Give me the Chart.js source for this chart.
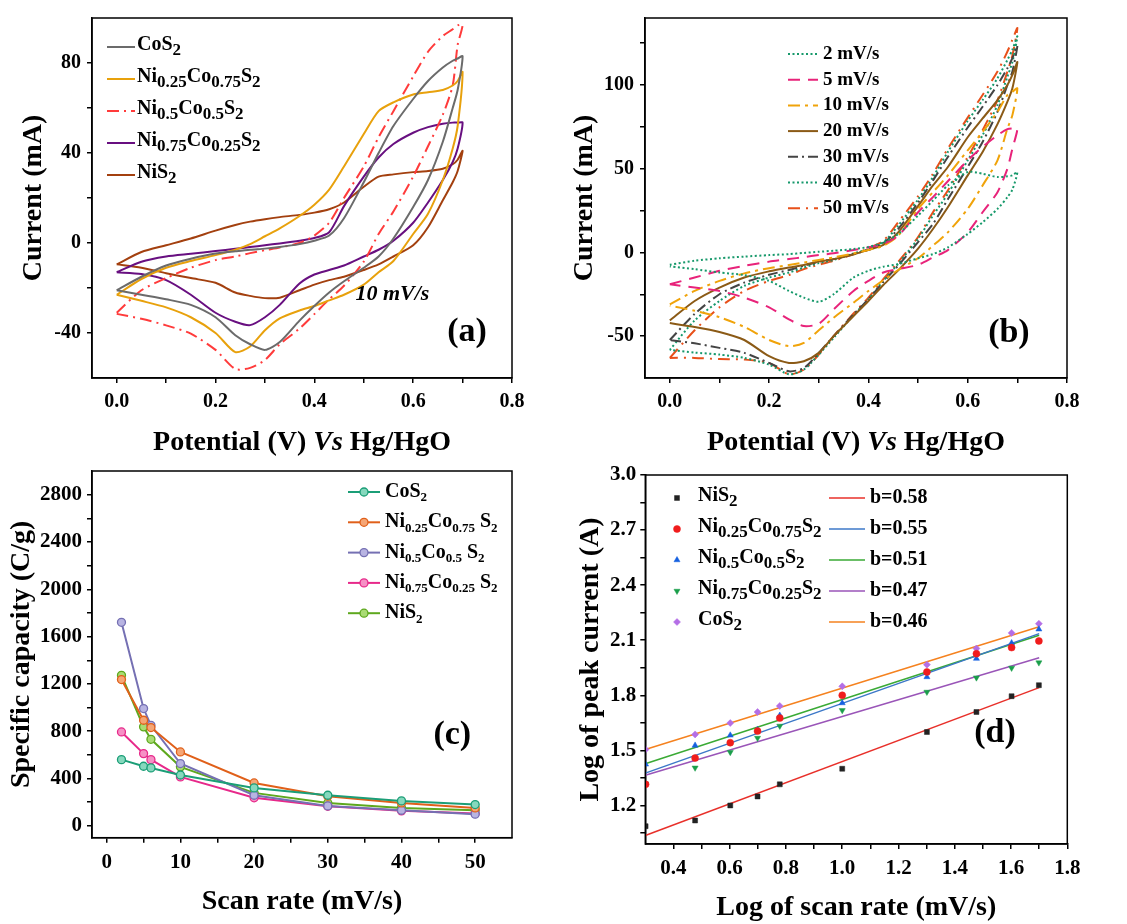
<!DOCTYPE html>
<html>
<head>
<meta charset="utf-8">
<script src="https://cdn.jsdelivr.net/npm/chart.js@4.4.1/dist/chart.umd.min.js"></script>
<style>
  body { margin: 0; background: #fff; }
  #wrap { position: relative; width: 1127px; height: 924px; overflow: hidden; }
  canvas { position: absolute; }
</style>
</head>
<body>
<div id="wrap">
  <canvas id="ca" width="563" height="462" style="left:0;top:0"></canvas>
  <canvas id="cb" width="564" height="462" style="left:563px;top:0"></canvas>
  <canvas id="cc" width="563" height="484" style="left:0;top:440px"></canvas>
  <canvas id="cd" width="564" height="484" style="left:563px;top:440px"></canvas>
</div>
<script>
// ---- (a) CV of the five samples at 10 mV/s, potential grid shared by all loops
const potential = [0, 0.05, 0.1, 0.15, 0.2, 0.24, 0.27, 0.3, 0.33, 0.37, 0.4, 0.43, 0.46, 0.5, 0.53, 0.56, 0.6, 0.63, 0.66, 0.68, 0.69, 0.7];

const cos2Fwd = [-21, -15, -10, -7, -4.7, -3.7, -3, -2.5, -1.8, -0.5, 1, 3.3, 11, 27, 40, 52, 64, 72, 78, 81, 82, 83];
const cos2Rev = [-21, -23, -25, -27.5, -33, -41, -45, -47.5, -44, -34.5, -28, -22, -17, -11, -6, 2, 16, 28, 45, 60, 68, 83];
const ni25Fwd = [-23, -16, -11, -8, -5.4, -3, -0.5, 3, 6.5, 12, 17, 23.7, 34, 48.4, 58.6, 62.5, 66, 67, 68, 70, 72, 76];
const ni25Rev = [-23, -25.7, -28.6, -33, -40, -48.5, -46, -38.8, -33.5, -30, -28, -25.5, -23, -18.5, -13, -8, 4, 13, 28, 42, 52, 76];
const ni50Fwd = [-31, -21, -15.6, -11, -7.6, -6, -4.5, -3.2, -2, 0, 3.3, 9, 20, 34, 47, 58.6, 74, 85, 92, 95, 96.7, 97];
const ni50Rev = [-31.5, -33.7, -36.6, -40.3, -47.5, -56, -55.5, -52, -45, -38, -31.6, -25, -19, -8.3, 4, 14, 29.5, 43, 57, 70, 88, 97];
const ni75Fwd = [-13, -8.3, -6, -4.8, -3.6, -2.6, -1.8, -1, -0.2, 1, 2.2, 4.8, 16.4, 29.5, 38, 44, 49, 51.5, 53, 53.5, 53.5, 53.5];
const ni75Rev = [-13, -13.8, -16.5, -23, -31, -35, -36.5, -33, -27.5, -18, -14, -12, -10, -6, -3, 1, 9, 18, 28, 36, 42, 53.5];
const nis2Fwd = [-9.5, -4, -1, 2, 5.5, 8, 9.5, 10.6, 11.5, 12.5, 13.5, 15, 18, 25, 29.5, 30.5, 31.5, 32, 33, 35, 37, 41];
const nis2Rev = [-9.5, -11, -13.4, -15.6, -17.7, -22, -23.5, -24.5, -24.3, -21, -18.5, -16.5, -15, -12, -9.5, -6, -1, 7, 19, 27, 32, 41];

// ---- (b) CV at different scan rates
const r2Fwd = [-7.4, -5, -3.5, -2.5, -1.6, -1, -0.3, 0.4, 1, 2, 3.3, 6, 11, 22, 31, 40, 48, 47, 45, 45.5, 46, 48];
const r2Rev = [-8.4, -10, -12, -13.5, -17, -23, -27, -29.5, -25, -15, -11, -8.5, -7, -3.5, -1, 3, 11, 18, 26, 33, 37.5, 48];
const r5Fwd = [-19, -15, -11, -8, -5.5, -4, -2.8, -1.6, -0.5, 1.4, 3, 5, 10, 24, 33, 42.5, 55, 63, 70, 73.6, 74, 74];
const r5Rev = [-19, -21, -23, -27, -32.8, -40, -44, -42.6, -34, -23, -17, -12, -10, -7.4, -3, 1.4, 12, 24, 36, 50, 62, 74];
const r10Fwd = [-31, -23, -17, -12.5, -9.4, -7.5, -6, -4.5, -3, -0.6, 1.5, 4, 10, 26, 36, 46, 61, 72, 84, 94, 96, 98];
const r10Rev = [-31.8, -34.8, -38.7, -44.5, -52.3, -56, -54, -46.5, -39, -30, -23, -16.6, -10.5, -3.5, 4, 12, 26, 40, 55, 74, 82, 98];
const r20Fwd = [-40.6, -29, -21, -15, -11.3, -9, -7.5, -5.5, -4, -1.2, 1.5, 4.5, 12, 27.7, 40, 51, 68.8, 80, 91, 100, 106, 113.7];
const r20Rev = [-42.2, -44.5, -47.5, -52.3, -62, -66, -65, -60, -50, -38, -29, -19.5, -10.7, 2.3, 14, 27, 46, 60, 76.6, 90, 98, 113.7];
const r30Fwd = [-52.3, -36.7, -25, -18, -13.3, -10.5, -8, -5.5, -4, -1, 1.5, 5.5, 14, 29.7, 43, 57, 74.6, 87, 100, 110, 116, 123.4];
const r30Rev = [-52.3, -54.3, -57, -60, -66, -71, -69, -60, -50, -37, -28, -17.7, -7.8, 6.2, 17, 31.7, 51, 66, 84, 100, 108, 123.4];
const r40Fwd = [-58.2, -40.6, -29, -20, -15, -12, -9, -6.4, -4.5, -0.6, 2, 6, 16, 31.6, 45, 60, 78.5, 91, 104, 115, 121, 129];
const r40Rev = [-58.2, -59.8, -61, -63, -67, -72.8, -70, -61, -51, -37.5, -28, -17, -6.7, 8.2, 22, 35, 55, 70, 88, 105, 113.7, 129];
const r50Fwd = [-63, -46.5, -32.8, -23, -17, -13.5, -10, -7.4, -5, -1, 2.5, 7, 18, 33.6, 47, 62, 80.5, 94, 108, 120, 127, 134];
const r50Rev = [-63, -63, -63.7, -64, -66, -72.8, -70, -61, -50, -36.5, -27, -16, -5.7, 9.2, 24, 37, 57, 73, 91, 108, 117.6, 134];

// ---- (c) specific capacity vs scan rate
const scanRate = [2, 5, 6, 10, 20, 30, 40, 50];
const capCoS2 = [560, 504, 490, 430, 321, 259, 211, 180];
const capNi25 = [1237, 893, 831, 625, 363, 251, 194, 152];
const capNi50 = [1721, 992, 850, 527, 259, 169, 132, 99];
const capNi75 = [794, 611, 560, 414, 237, 166, 127, 104];
const capNiS2 = [1273, 837, 732, 499, 279, 194, 152, 132];

// ---- (d) log peak current vs log scan rate
const logRate = [0.301, 0.477, 0.602, 0.699, 0.778, 1.0, 1.301, 1.477, 1.602, 1.699];
const logNiS2 = [1.087, 1.118, 1.2, 1.249, 1.315, 1.4, 1.6, 1.709, 1.795, 1.855];
const logNi25 = [1.315, 1.458, 1.542, 1.605, 1.676, 1.8, 1.927, 2.027, 2.06, 2.096];
const logNi50 = [1.424, 1.527, 1.582, 1.613, 1.69, 1.758, 1.9, 2.0, 2.085, 2.16];
const logNi75 = [1.318, 1.405, 1.49, 1.567, 1.633, 1.718, 1.818, 1.896, 1.949, 1.978];
const logCoS2 = [1.505, 1.587, 1.649, 1.709, 1.742, 1.849, 1.967, 2.055, 2.14, 2.19];
const fitX = [0.3, 1.7];
const fitNiS2 = [1.036, 1.842];
const fitNi25 = [1.376, 2.136];
const fitNi50 = [1.427, 2.127];
const fitNi75 = [1.364, 2.005];
const fitCoS2 = [1.505, 2.173];

// ---- ticks
const cvXMajor = [0, 0.2, 0.4, 0.6, 0.8], cvXMinor = [0.1, 0.3, 0.5, 0.7];
const aYMajor = [-40, 0, 40, 80], aYMinor = [-20, 20, 60];
const bYMajor = [-50, 0, 50, 100], bYMinor = [-25, 25, 75, 125];
const cXMajor = [0, 10, 20, 30, 40, 50], cXMinor = [5, 15, 25, 35, 45];
const cYMajor = [0, 400, 800, 1200, 1600, 2000, 2400, 2800], cYMinor = [200, 600, 1000, 1400, 1800, 2200, 2600];
const dXMajor = [0.4, 0.6, 0.8, 1.0, 1.2, 1.4, 1.6, 1.8], dXMinor = [0.5, 0.7, 0.9, 1.1, 1.3, 1.5, 1.7];
const dYMajor = [1.2, 1.5, 1.8, 2.1, 2.4, 2.7, 3.0], dYMinor = [1.05, 1.35, 1.65, 1.95, 2.25, 2.55, 2.85];

const SERIF = 'Liberation Serif';

function loop(fwd, rev) {
  const pts = potential.map((v, i) => ({ x: v, y: fwd[i] }));
  for (let i = potential.length - 2; i >= 0; i--) pts.push({ x: potential[i], y: rev[i] });
  return pts;
}
function xy(xs, ys) { return xs.map((v, i) => ({ x: v, y: ys[i] })); }

function cv(label, data, color, dash) {
  return { label, data, borderColor: color, borderWidth: 2, borderDash: dash || [], showLine: true,
           pointRadius: 0, tension: 0.25, fill: false };
}

function axis(min, max, majors, minors, fmt, size, pad, extent) {
  const all = majors.concat(minors).sort((a, b) => a - b);
  return {
    type: 'linear', min, max,
    afterBuildTicks: s => { s.ticks = all.map(v => ({ value: v })); },
    afterFit: s => { if (s.isHorizontal()) s.height = extent; else s.width = extent; },
    ticks: {
      autoSkip: false, maxRotation: 0, padding: pad, color: '#000',
      font: { family: SERIF, weight: 'bold', size },
      callback: v => majors.some(m => Math.abs(m - v) < 1e-9) ? fmt(v) : ''
    },
    grid: { drawOnChartArea: false, tickLength: 5, color: '#000', lineWidth: 1.5 },
    border: { color: '#000', width: 1.5 }
  };
}

// rich text: _{sub} for subscripts, *text* for italics
function drawRich(ctx, text, x, y, size, align, subScale, italic) {
  const segs = [];
  text.replace(/_\{([^}]*)\}|\*([^*]*)\*|[^_*]+/g, (m, sub, it) => {
    if (sub !== undefined) segs.push({ t: sub, sub: true });
    else if (it !== undefined) segs.push({ t: it, it: true });
    else segs.push({ t: m });
    return m;
  });
  const font = s => `${(s.it || italic) ? 'italic ' : ''}bold ${s.sub ? size * subScale : size}px "${SERIF}"`;
  let w = 0;
  segs.forEach(s => { ctx.font = font(s); s.w = ctx.measureText(s.t).width; w += s.w; });
  let cx = align === 'center' ? x - w / 2 : x;
  ctx.textBaseline = 'middle';
  ctx.textAlign = 'left';
  segs.forEach(s => {
    ctx.font = font(s);
    ctx.fillText(s.t, cx, s.sub ? y + size * 0.3 : y);
    cx += s.w;
  });
}

const decorCfg = {};
const decor = {
  id: 'decor',
  afterDraw(chart) {
    const o = decorCfg[chart.canvas.id];
    if (!o) return;
    const ctx = chart.ctx, a = chart.chartArea;
    ctx.save();
    ctx.strokeStyle = '#000';
    ctx.lineWidth = 1.5;
    ctx.strokeRect(a.left, a.top, a.right - a.left, a.bottom - a.top);
    ctx.fillStyle = '#000';
    drawRich(ctx, o.xTitle, (a.left + a.right) / 2, a.bottom + o.xOff, o.titleSize, 'center', 0.8);
    ctx.save();
    ctx.translate(a.left - o.yOff, (a.top + a.bottom) / 2);
    ctx.rotate(-Math.PI / 2);
    drawRich(ctx, o.yTitle, 0, 0, o.titleSize, 'center', 0.8);
    ctx.restore();
    (o.notes || []).forEach(n => {
      const px = chart.scales.x.getPixelForValue(n.x), py = chart.scales.y.getPixelForValue(n.y);
      drawRich(ctx, n.text, px, py, n.size, 'center', 0.8, n.italic);
    });
    (o.legends || []).forEach(L => {
      L.items.forEach((it, k) => {
        const ds = chart.data.datasets[it.ds];
        const y = L.y + k * L.dy;
        if (ds.showLine && L.len > 0) {
          ctx.save();
          ctx.strokeStyle = ds.borderColor;
          ctx.lineWidth = ds.borderWidth;
          ctx.setLineDash(ds.borderDash || []);
          ctx.beginPath();
          ctx.moveTo(L.x, y);
          ctx.lineTo(L.x + L.len, y);
          ctx.stroke();
          ctx.restore();
        }
        if (ds.pointRadius > 0) {
          ctx.save();
          ctx.fillStyle = ds.pointBackgroundColor || ds.borderColor;
          ctx.strokeStyle = ds.pointBorderColor || ds.borderColor;
          ctx.lineWidth = ds.pointBorderWidth || 1;
          Chart.helpers.drawPoint(ctx, { pointStyle: ds.pointStyle || 'circle', radius: ds.pointRadius,
            rotation: ds.pointRotation || 0, borderWidth: ds.pointBorderWidth || 1 }, L.x + L.len / 2, y);
          ctx.restore();
        }
        ctx.fillStyle = '#000';
        drawRich(ctx, it.text, L.x + L.len + L.gap, y + (L.textDy || 0), L.size, 'left', L.sub);
      });
    });
    ctx.restore();
  }
};

function make(id, datasets, scales, padding, cfg) {
  decorCfg[id] = cfg;
  return new Chart(document.getElementById(id), {
    type: 'scatter',
    data: { datasets },
    options: {
      responsive: false, animation: false,
      layout: { padding },
      plugins: { legend: { display: false }, tooltip: { enabled: false } },
      scales
    },
    plugins: [decor]
  });
}

const f1 = v => v.toFixed(1);
const f0 = v => String(Math.round(v));

// (a)
make('ca', [
  cv('CoS2', loop(cos2Fwd, cos2Rev), '#6b6b6b'),
  cv('Ni0.25Co0.75S2', loop(ni25Fwd, ni25Rev), '#e8a10c'),
  cv('Ni0.5Co0.5S2', loop(ni50Fwd, ni50Rev), '#ff3b3b', [12, 5, 2, 5]),
  cv('Ni0.75Co0.25S2', loop(ni75Fwd, ni75Rev), '#680f80'),
  cv('NiS2', loop(nis2Fwd, nis2Rev), '#a3400f')
], {
  x: axis(-0.05, 0.8, cvXMajor, cvXMinor, f1, 20, 7, 84),
  y: axis(-60, 100, aYMajor, aYMinor, f0, 20, 6, 92)
}, { top: 12, right: 51, left: 0, bottom: 0 }, {
  titleSize: 28, xOff: 65, yOff: 58,
  xTitle: 'Potential (V) *Vs* Hg/HgO', yTitle: 'Current (mA)',
  notes: [{ x: 0.558, y: -22.7, text: '10 mV/s', size: 22, italic: true },
          { x: 0.709, y: -39.7, text: '(a)', size: 34 }],
  legends: [{ x: 107, y: 47, dy: 32, len: 28, gap: 2, size: 20, sub: 0.85, textDy: -2, items: [
    { ds: 0, text: 'CoS_{2}' }, { ds: 1, text: 'Ni_{0.25}Co_{0.75}S_{2}' }, { ds: 2, text: 'Ni_{0.5}Co_{0.5}S_{2}' },
    { ds: 3, text: 'Ni_{0.75}Co_{0.25}S_{2}' }, { ds: 4, text: 'NiS_{2}' }] }]
});

// (b)
make('cb', [
  cv('2 mV/s', loop(r2Fwd, r2Rev), '#17996b', [2, 2.5]),
  cv('5 mV/s', loop(r5Fwd, r5Rev), '#e8237a', [12, 8]),
  cv('10 mV/s', loop(r10Fwd, r10Rev), '#f0a30a', [12, 5, 3, 5]),
  cv('20 mV/s', loop(r20Fwd, r20Rev), '#8b5a16'),
  cv('30 mV/s', loop(r30Fwd, r30Rev), '#444444', [10, 4, 2, 4]),
  cv('40 mV/s', loop(r40Fwd, r40Rev), '#15986b', [2, 2.5]),
  cv('50 mV/s', loop(r50Fwd, r50Rev), '#e8501a', [12, 6, 2, 6])
], {
  x: axis(-0.05, 0.8, cvXMajor, cvXMinor, f1, 20, 7, 84),
  y: axis(-75, 140, bYMajor, bYMinor, f0, 20, 6, 82)
}, { top: 12, right: 60, left: 0, bottom: 0 }, {
  titleSize: 28, xOff: 65, yOff: 60,
  xTitle: 'Potential (V) *Vs* Hg/HgO', yTitle: 'Current (mA)',
  notes: [{ x: 0.683, y: -48.2, text: '(b)', size: 34 }],
  legends: [{ x: 225, y: 54, dy: 25.7, len: 30, gap: 5, size: 19, sub: 0.8, items: [
    { ds: 0, text: '2 mV/s' }, { ds: 1, text: '5 mV/s' }, { ds: 2, text: '10 mV/s' }, { ds: 3, text: '20 mV/s' },
    { ds: 4, text: '30 mV/s' }, { ds: 5, text: '40 mV/s' }, { ds: 6, text: '50 mV/s' }] }]
});

// (c)
function capLine(label, ys, color, light) {
  return { label, data: xy(scanRate, ys), borderColor: color, borderWidth: 2, showLine: true, tension: 0,
           pointRadius: 4, pointBackgroundColor: light, pointBorderColor: color, pointBorderWidth: 1.3 };
}
make('cc', [
  capLine('CoS2', capCoS2, '#1b9e77', '#86d8bd'),
  capLine('Ni0.25Co0.75 S2', capNi25, '#e0601a', '#f5a676'),
  capLine('Ni0.5Co0.5 S2', capNi50, '#7570b3', '#b8b4e2'),
  capLine('Ni0.75Co0.25 S2', capNi75, '#e7298a', '#f690c5'),
  capLine('NiS2', capNiS2, '#5ea81e', '#a9db74')
], {
  x: axis(-2, 55, cXMajor, cXMinor, f0, 21, 7, 86.3),
  y: axis(-100, 3000, cYMajor, cYMinor, f0, 21, 5, 92)
}, { top: 31, right: 51, left: 0, bottom: 0 }, {
  titleSize: 28, xOff: 64, yOff: 70,
  xTitle: 'Scan rate (mV/s)', yTitle: 'Specific capacity (C/g)',
  notes: [{ x: 46.9, y: 767, text: '(c)', size: 34 }],
  legends: [{ x: 348, y: 52, dy: 30.3, len: 32, gap: 5, size: 20, sub: 0.65, items: [
    { ds: 0, text: 'CoS_{2}' }, { ds: 1, text: 'Ni_{0.25}Co_{0.75} S_{2}' }, { ds: 2, text: 'Ni_{0.5}Co_{0.5} S_{2}' },
    { ds: 3, text: 'Ni_{0.75}Co_{0.25} S_{2}' }, { ds: 4, text: 'NiS_{2}' }] }]
});

// (d)
function pts(label, ys, color, style, rot) {
  return { label, data: xy(logRate, ys), showLine: false, pointRadius: 3.5, pointStyle: style, pointRotation: rot || 0,
           pointBackgroundColor: color, pointBorderColor: color, pointBorderWidth: 0.5, borderColor: color };
}
function fit(label, ys, color) {
  return { label, data: xy(fitX, ys), showLine: true, borderColor: color, borderWidth: 1.5, pointRadius: 0, tension: 0 };
}
make('cd', [
  pts('NiS2', logNiS2, '#222222', 'rect'),
  pts('Ni0.25Co0.75S2', logNi25, '#f01c1c', 'circle'),
  pts('Ni0.5Co0.5S2', logNi50, '#1560e0', 'triangle'),
  pts('Ni0.75Co0.25S2', logNi75, '#1a9e4a', 'triangle', 180),
  pts('CoS2', logCoS2, '#b46ee6', 'rectRot'),
  fit('b=0.58', fitNiS2, '#e8302a'),
  fit('b=0.55', fitNi25, '#3c78c8'),
  fit('b=0.51', fitNi50, '#3aaa35'),
  fit('b=0.47', fitNi75, '#9a55b8'),
  fit('b=0.46', fitCoS2, '#f5821f')
], {
  x: axis(0.3, 1.8, dXMajor, dXMinor, f1, 21, 7, 80),
  y: axis(0.99, 3.0, dYMajor, dYMinor, f1, 21, 4, 82.3)
}, { top: 35, right: 59.7, left: 0, bottom: 0 }, {
  titleSize: 28, xOff: 64, yOff: 55,
  xTitle: 'Log of scan rate (mV/s)', yTitle: 'Log of peak current (A)',
  notes: [{ x: 1.543, y: 1.593, text: '(d)', size: 34 }],
  legends: [
    { x: 114, y: 58, dy: 31, len: 0, gap: 21, size: 20, sub: 0.85, textDy: -2, items: [
      { ds: 0, text: 'NiS_{2}' }, { ds: 1, text: 'Ni_{0.25}Co_{0.75}S_{2}' }, { ds: 2, text: 'Ni_{0.5}Co_{0.5}S_{2}' },
      { ds: 3, text: 'Ni_{0.75}Co_{0.25}S_{2}' }, { ds: 4, text: 'CoS_{2}' }] },
    { x: 266, y: 58, dy: 31, len: 36, gap: 5, size: 20, sub: 0.85, items: [
      { ds: 5, text: 'b=0.58' }, { ds: 6, text: 'b=0.55' }, { ds: 7, text: 'b=0.51' },
      { ds: 8, text: 'b=0.47' }, { ds: 9, text: 'b=0.46' }] }
  ]
});
</script>
</body>
</html>
